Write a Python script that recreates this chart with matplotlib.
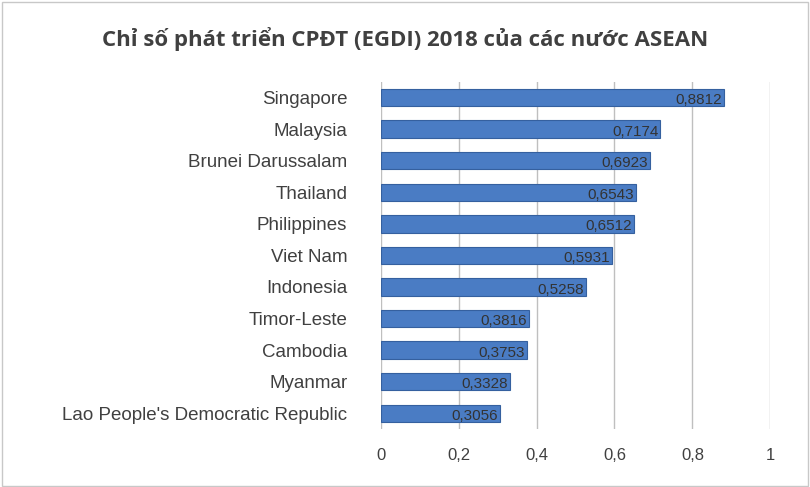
import matplotlib.pyplot as plt
from matplotlib.patches import Rectangle

countries = ["Singapore", "Malaysia", "Brunei Darussalam", "Thailand", "Philippines",
             "Viet Nam", "Indonesia", "Timor-Leste", "Cambodia", "Myanmar",
             "Lao People's Democratic Republic"]
values = [0.8812, 0.7174, 0.6923, 0.6543, 0.6512, 0.5931, 0.5258, 0.3816, 0.3753, 0.3328, 0.3056]
ticks = [0, 0.2, 0.4, 0.6, 0.8, 1]
tick_labels = ["0", "0,2", "0,4", "0,6", "0,8", "1"]

fig = plt.figure(figsize=(8.1, 4.87), dpi=100)
ax = fig.add_axes([0.470, 0.119, 0.481, 0.713])
fig.patches.append(Rectangle((0.002, 0.003), 0.995, 0.993, transform=fig.transFigure,
                             fill=False, edgecolor='#c8c8c8', linewidth=1))

y = list(range(len(countries)))[::-1]
ax.barh(y, values, height=0.55, color='#4a7cc4', edgecolor='#35609f', linewidth=0.8, zorder=3)
for yi, v in zip(y, values):
    ax.text(v - 0.005, yi - 0.08, f"{v:.4f}".replace('.', ','), ha='right', va='center',
            fontsize=11, color='#333333', zorder=4, family='Liberation Sans')

ax.set_xlim(0, 1)
ax.set_ylim(-0.5, len(countries) - 0.5)
ax.set_xticks(ticks)
ax.set_xticklabels(tick_labels, fontsize=12, color='#404040', family='Liberation Sans')
ax.set_yticks(y)
ax.set_yticklabels(countries, fontsize=13.5, color='#404040', family='Liberation Sans')
ax.tick_params(length=0, pad=24)
ax.tick_params(axis='x', pad=14)
ax.xaxis.grid(True, color='#bfbfbf', linewidth=1, zorder=0)
for s in ax.spines.values():
    s.set_visible(False)

fig.text(0.5, 0.92, "Chỉ số phát triển CPĐT (EGDI) 2018 của các nước ASEAN",
         ha='center', va='center', fontsize=16, fontweight='bold', color='#404040',
         family='Open Sans')

fig.savefig("out.png", dpi=100)
